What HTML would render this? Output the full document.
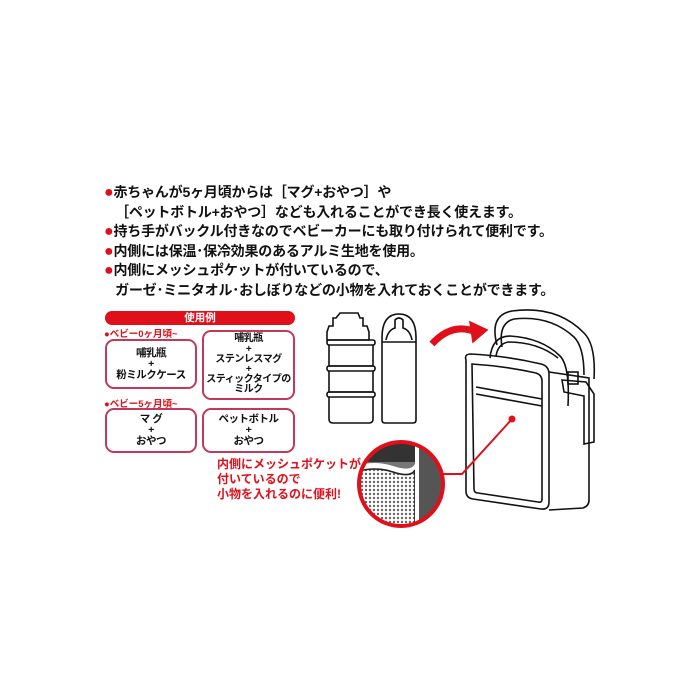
<!DOCTYPE html><html><head><meta charset="utf-8"><style>
body{margin:0;width:700px;height:700px;background:#fff;position:relative;overflow:hidden;font-family:"Liberation Sans","Noto Sans CJK JP",sans-serif;font-weight:bold}
.t{position:absolute;left:104px;font-size:14px;line-height:19.6px;color:#111;white-space:nowrap;letter-spacing:-0.2px}
.r{color:#e0101a;font-size:16px}
.box{position:absolute;border:2px solid #c23a5a;border-radius:9px;text-align:center;font-size:10.5px;line-height:11px;color:#111;display:flex;flex-direction:column;justify-content:center;white-space:nowrap;letter-spacing:-0.5px}
.lab{position:absolute;left:104px;font-size:9.5px;color:#e0101a}
</style></head><body>
<div class="t" style="top:183px"><span class="r">●</span>赤ちゃんが5ヶ月頃からは［マグ+おやつ］や<br>&nbsp;&nbsp;&nbsp;［ペットボトル+おやつ］なども入れることができ長く使えます。<br><span class="r">●</span>持ち手がバックル付きなのでベビーカーにも取り付けられて便利です。<br><span class="r">●</span>内側には保温･保冷効果のあるアルミ生地を使用。<br><span class="r">●</span>内側にメッシュポケットが付いているので、<br>&nbsp;&nbsp;&nbsp;ガーゼ･ミニタオル･おしぼりなどの小物を入れておくことができます。</div>
<div style="position:absolute;left:105px;top:311px;width:190px;height:14px;background:#e0101a;border-radius:7px;color:#fff;font-size:10.5px;line-height:14px;text-align:center">使用例</div>
<div class="lab" style="top:326px">●ベビー0ヶ月頃~</div>
<div class="box" style="left:105px;top:339px;width:88px;height:46px">哺乳瓶<br>+<br>粉ミルクケース</div>
<div class="box" style="left:202px;top:330px;width:89px;height:66px;font-size:10px;line-height:10.2px">哺乳瓶<br>+<br>ステンレスマグ<br>+<br>スティックタイプの<br>ミルク</div>
<div class="lab" style="top:396px">●ベビー5ヶ月頃~</div>
<div class="box" style="left:105px;top:408px;width:88px;height:41px">マ グ<br>+<br>おやつ</div>
<div class="box" style="left:202px;top:408px;width:89px;height:41px">ペットボトル<br>+<br>おやつ</div>
<div style="position:absolute;left:217px;top:457px;font-size:12px;line-height:15px;color:#e0101a">内側にメッシュポケットが<br>付いているので<br>小物を入れるのに便利!</div>
<svg width="700" height="700" style="position:absolute;left:0;top:0" fill="none" stroke="#111" stroke-width="1.6">
<defs><pattern id="m" width="4" height="4" patternUnits="userSpaceOnUse"><rect width="4" height="4" fill="#fff" stroke="none"/><circle cx="2" cy="2" r="1.2" fill="#666" stroke="none"/></pattern>
<clipPath id="c"><circle cx="401" cy="484" r="42"/></clipPath></defs>
<path d="M340 313h18l2 5h3v8h4l2 6v8h-42v-8l2-6h4v-8h3z"/>
<rect x="327" y="340" width="48" height="5" rx="2"/><path d="M329 345v21h44v-21"/>
<rect x="327" y="366" width="48" height="5" rx="2"/><path d="M329 371v21h44v-21"/>
<rect x="327" y="392" width="48" height="5" rx="2"/><path d="M329 397v22q0 4 4 4h36q4 0 4-4v-22"/>
<path d="M382 338q0-24 17-24t17 24v82q0 3-3 3h-28q-3 0-3-3z"/>
<path d="M386 340q2-10 9-12v-8q4-4 8 0v8q7 2 9 12"/><path d="M382 342h34"/>
<path d="M432 344q20-22 44-12" stroke="#e0101a" stroke-width="7"/>
<path d="M470 322l17 8-14 12z" fill="#e0101a" stroke="#e0101a"/>
<!-- bag -->
<path d="M497 345q-8-30 15-34q45-6 72 22q12 12 10 46"/>
<path d="M502 347q-4-24 12-28q36-4 60 18q10 10 10 38"/>
<path d="M490 358q2-22 20-22q32 2 50 20q10 10 8 50"/>
<path d="M496 356q2-12 12-14q30 0 50 16"/>
<path d="M466 360q-2-6 5-6q36 2 70 10q8 2 8 10l0 128q0 8-8 7l-68-10q-7-1-7-8z"/>
<path d="M472 364q32 2 64 9q6 2 6 8v118q0 4-4 3l-60-9q-4 0-4-4z"/>
<path d="M476 387l66 12M476 394l66 12"/>
<path d="M549 372l40 6v122q0 6-6 8l-34 2"/>
<path d="M562 380l24 2 8 12v48l-10 2v-48l-20-4z"/>
<rect x="568" y="372" width="10" height="12"/>
<circle cx="512" cy="419" r="3.5" fill="#e0101a" stroke="none"/>
<path d="M512 419l-50 55h-20" stroke="#e0101a" stroke-width="2"/>
<g clip-path="url(#c)"><rect x="355" y="440" width="90" height="90" fill="#777" stroke="none"/>
<rect x="355" y="440" width="60" height="22" fill="#333" stroke="none"/>
<path d="M355 466q20-6 38 0t22-2v70h-60z" fill="#fff" stroke="none"/>
<path d="M355 472q20-6 38 0t22-2v70h-60z" fill="url(#m)" stroke="#222"/>
<rect x="415" y="440" width="4" height="90" fill="#fff" stroke="none"/>
<rect x="419" y="440" width="30" height="90" fill="#555" stroke="none"/></g>
<circle cx="401" cy="484" r="42" stroke="#e0101a" stroke-width="4"/>
</svg>
</body></html>
